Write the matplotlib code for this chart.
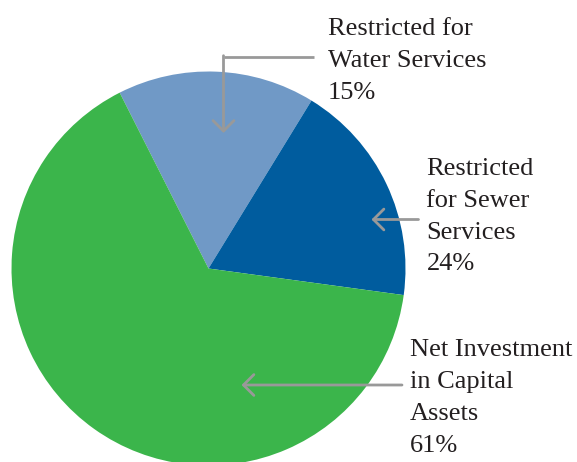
import matplotlib
matplotlib.use("Agg")
import matplotlib.pyplot as plt

# slice sizes (labels carry the printed percents)
categories = ["Restricted for\nWater Services", "Restricted\nfor Sewer\nServices", "Net Investment\nin Capital\nAssets"]
values = [16.2, 18.4, 65.4]
pct_labels = ["15%", "24%", "61%"]
colors = ["#7099c6", "#005c9e", "#3bb54b"]

W, H = 577, 462

def Y(y):
    # pixel from top -> data y
    return H - y

fig = plt.figure(figsize=(W / 100, H / 100), dpi=100)
ax = fig.add_axes([0, 0, 1, 1])
ax.set_xlim(0, W)
ax.set_ylim(0, H)
ax.set_aspect("equal")
ax.axis("off")

ax.pie(values, colors=colors, startangle=116.8, counterclock=False,
       center=(208.5, Y(268.5)), radius=197,
       wedgeprops=dict(linewidth=0))
ax.set_xlim(0, W)
ax.set_ylim(0, H)

grey = "#999999"
arrow = dict(arrowstyle="->,head_length=0.75,head_width=0.75", color=grey, lw=2,
             shrinkA=0, shrinkB=0)

# water: elbow line
ax.plot([314, 223.5], [Y(56.7), Y(56.7)], color=grey, lw=2, solid_capstyle="butt")
ax.annotate("", xy=(223.5, Y(133)), xytext=(223.5, Y(55.7)), arrowprops=arrow)
# sewer
ax.annotate("", xy=(371.5, Y(219.5)), xytext=(418.5, Y(219.5)), arrowprops=arrow)
# net investment
ax.annotate("", xy=(241.5, Y(385)), xytext=(402, Y(385)), arrowprops=arrow)

font = dict(family="Liberation Serif", size=19, color="#231f20")
label_pos = [(328, 35), (426.5, 175), (410, 356.5)]
step = 31.8
for cat, pct, (x, y0) in zip(categories, pct_labels, label_pos):
    lines = cat.split("\n") + [pct]
    for i, line in enumerate(lines):
        ax.text(x, Y(y0 + i * step), line, ha="left", va="baseline", **font)

fig.savefig("out.png", dpi=100)
